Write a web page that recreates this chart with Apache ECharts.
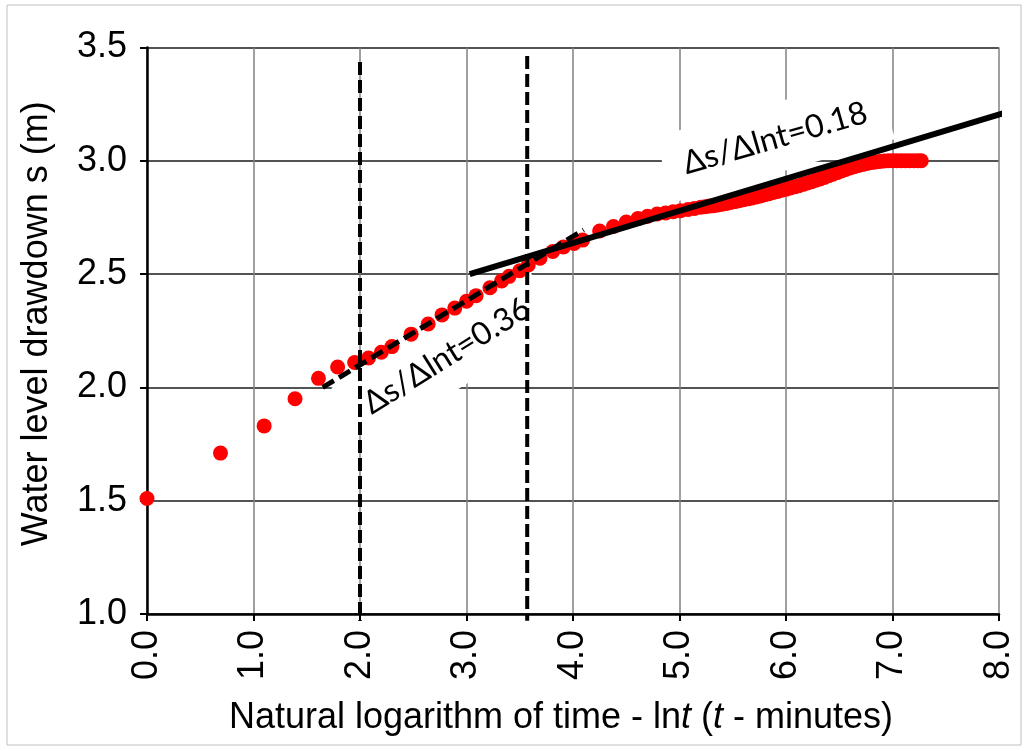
<!DOCTYPE html>
<html>
<head>
<meta charset="utf-8">
<script src="https://cdn.jsdelivr.net/npm/echarts@6/dist/echarts.min.js"></script>
<style>
html, body { margin: 0; padding: 0; background: #fff; }
#main { width: 1028px; height: 751px; }
</style>
</head>
<body>
<div id="main"></div>
<script>
var dom = document.getElementById('main')
var chart = echarts.init(dom)

// ln(t), t in minutes
var lnT = [
    0.00, 0.69, 1.10, 1.39, 1.61, 1.79, 1.95, 2.08, 2.20, 2.30,
    2.48, 2.64, 2.77, 2.89, 3.00, 3.09, 3.22, 3.33, 3.40, 3.50,
    3.58, 3.69, 3.81, 3.91, 4.01, 4.09,
    4.25, 4.38, 4.50, 4.61, 4.70, 4.79, 4.87, 4.94, 5.01, 5.08, 5.14, 5.20,
    5.24, 5.28, 5.32, 5.36, 5.40, 5.44, 5.48, 5.52, 5.56, 5.60,
    5.64, 5.68, 5.72, 5.76, 5.80, 5.84, 5.88, 5.92, 5.96, 6.00,
    6.04, 6.08, 6.12, 6.16, 6.20, 6.24, 6.28, 6.32, 6.36, 6.40,
    6.44, 6.48, 6.52, 6.56, 6.60, 6.64, 6.68, 6.72, 6.76, 6.80,
    6.84, 6.88, 6.92, 6.96, 7.00, 7.04, 7.08, 7.12, 7.16, 7.20,
    7.24, 7.27
];
// drawdown s (m)
var drawdown = [
    1.51, 1.71, 1.83, 1.95, 2.04, 2.09, 2.11, 2.13, 2.155, 2.18,
    2.235, 2.28, 2.32, 2.35, 2.38, 2.405, 2.44, 2.47, 2.49, 2.515,
    2.54, 2.57, 2.60, 2.62, 2.635, 2.65,
    2.69, 2.71, 2.73, 2.745, 2.755, 2.765, 2.77, 2.775, 2.78, 2.785, 2.79, 2.795,
    2.797, 2.80, 2.802, 2.805, 2.808, 2.812, 2.816, 2.82, 2.824, 2.828,
    2.832, 2.836, 2.84, 2.845, 2.85, 2.855, 2.86, 2.865, 2.87, 2.875,
    2.88, 2.885, 2.89, 2.896, 2.902, 2.908, 2.914, 2.92, 2.927, 2.934,
    2.941, 2.948, 2.955, 2.962, 2.968, 2.974, 2.979, 2.984, 2.988, 2.992,
    2.995, 2.997, 2.999, 3.0, 3.0, 3.0, 3.0, 3.0, 3.0, 3.0,
    3.0, 3.0
];

// fitted straight lines and time markers
var earlyFit = [[1.65, 2.0], [4.10, 2.695]];
var lateFit = [[3.03, 2.5], [8.04, 3.21]];
var markerA = [[2.0, 3.436], [2.0, 0.97]];
var markerB = [[3.57, 3.462], [3.57, 0.97]];

var slopeLabels = [
    { text: 'Δs/Δlnt=0.36', at: [2.817, 2.139], angle: 32 },
    { text: 'Δs/Δlnt=0.18', at: [5.897, 3.10], angle: 16 }
];

var axisFont = '"Liberation Sans", Arial, sans-serif';
var noteFont = 'Lato, "Open Sans", sans-serif';

var points = lnT.map(function (x, i) { return [x, drawdown[i]]; });

var options = {
    animation: false,
    backgroundColor: '#fff',
    grid: { left: 147, right: 29, top: 47.5, bottom: 137, containLabel: false },
    xAxis: {
        type: 'value',
        min: 0, max: 8, interval: 1,
        name: 'Natural logarithm of time - ln{i|t} ({i|t} - minutes)',
        nameLocation: 'middle',
        nameGap: 86,
        nameTextStyle: {
            fontFamily: axisFont, fontSize: 36, color: '#000',
            padding: [0, 24, 0, 0],
            rich: { i: { fontFamily: axisFont, fontSize: 36, fontStyle: 'italic', color: '#000' } }
        },
        axisLine: { onZero: false, lineStyle: { color: '#000', width: 2.5 } },
        axisTick: { length: 7, lineStyle: { color: '#000', width: 2 } },
        axisLabel: {
            rotate: 90, margin: 16,
            fontFamily: axisFont, fontSize: 36, color: '#000',
            formatter: function (v) { return v.toFixed(1); }
        },
        splitLine: { show: true, lineStyle: { color: '#808080', width: 1.5 } }
    },
    yAxis: {
        type: 'value',
        min: 1, max: 3.5, interval: 0.5,
        name: 'Water level drawdown s (m)',
        nameLocation: 'middle',
        nameGap: 92,
        nameTextStyle: { fontFamily: axisFont, fontSize: 36, color: '#000', padding: [0, 0, 0, 14] },
        axisLine: { onZero: false, lineStyle: { color: '#000', width: 2.5 } },
        axisTick: { length: 7, lineStyle: { color: '#000', width: 2 } },
        axisLabel: {
            margin: 20,
            fontFamily: axisFont, fontSize: 36, color: '#000',
            formatter: function (v) { return v.toFixed(1); }
        },
        splitLine: { show: true, lineStyle: { color: '#1a1a1a', width: 1.5 } }
    },
    series: [
        {
            type: 'scatter',
            data: points,
            symbol: 'circle',
            symbolSize: 15,
            itemStyle: { color: '#ff0000', opacity: 1 },
            z: 3
        },
        {
            type: 'line',
            data: earlyFit,
            symbol: 'none',
            lineStyle: { color: '#000', width: 5, type: [13, 6] },
            z: 4
        },
        {
            type: 'line',
            data: lateFit,
            symbol: 'none',
            clip: false,
            lineStyle: { color: '#000', width: 6 },
            z: 4
        },
        {
            type: 'line',
            data: markerA,
            symbol: 'none',
            clip: false,
            lineStyle: { color: '#000', width: 4, type: [13, 5] },
            z: 5
        },
        {
            type: 'line',
            data: markerB,
            symbol: 'none',
            clip: false,
            lineStyle: { color: '#000', width: 4, type: [13, 5] },
            z: 5
        }
    ]
}

chart.setOption(options)

// slope annotations sit on white boxes that hide the grid behind them
chart.setOption({
    graphic: slopeLabels.map(function (lab) {
        var p = chart.convertToPixel({ gridIndex: 0 }, lab.at);
        return {
            type: 'text',
            x: p[0], y: p[1],
            rotation: lab.angle * Math.PI / 180,
            z: 1,
            style: {
                text: lab.text,
                fontFamily: noteFont,
                fontSize: 32,
                fill: '#000',
                align: 'center',
                verticalAlign: 'middle',
                backgroundColor: '#fff',
                padding: [18, 20]
            }
        };
    }).concat([{
        type: 'rect',
        shape: { x: 7, y: 5, width: 1014, height: 740 },
        style: { fill: 'none', stroke: '#c0c0c0', lineWidth: 1 },
        z: 0
    }])
})
</script>
</body>
</html>
